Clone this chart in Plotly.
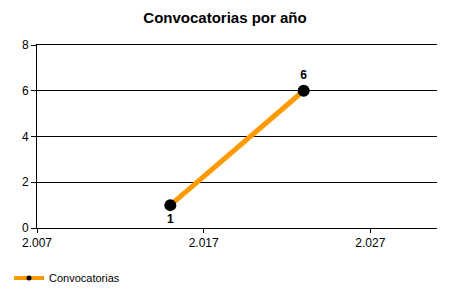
import plotly.graph_objects as go

years = [2015, 2023]
counts = [1, 6]
label_pos = ["bottom center", "top center"]
series_name = "Convocatorias"
title = "Convocatorias por año"

fig = go.Figure()
fig.add_trace(go.Scatter(
    x=years, y=counts, mode="lines+markers+text", name=series_name,
    text=[str(v) for v in counts], textposition=label_pos,
    textfont=dict(family="Liberation Sans, Arial", size=12, color="black", weight="bold"),
    line=dict(color="#FF9900", width=5),
    marker=dict(color="black", size=12),
    cliponaxis=False, showlegend=False,
))
# legend entry with small marker
fig.add_trace(go.Scatter(
    x=[None], y=[None], mode="lines+markers", name=series_name,
    line=dict(color="#FF9900", width=4),
    marker=dict(color="black", size=5),
    showlegend=True,
))
fig.update_layout(
    width=450, height=300,
    margin=dict(l=37, r=13, t=45, b=72, autoexpand=False),
    paper_bgcolor="white", plot_bgcolor="white",
    separators=",.",
    font=dict(family="Liberation Sans, Arial", size=12, color="black"),
    title=dict(text="<b>" + title + "</b>", x=0.5, xanchor="center", y=0.94, yanchor="middle",
               font=dict(size=15, color="black")),
    showlegend=True,
    legend=dict(orientation="h", xref="container", yref="container", x=0.02, y=0.073,
                xanchor="left", yanchor="middle",
                font=dict(size=11), itemwidth=30),
    xaxis=dict(range=[2007, 2031], tick0=2007, dtick=10, tickformat=",d",
               showgrid=False, zeroline=False, showline=True, linecolor="black", linewidth=1,
               mirror=True,
               ticks="outside", ticklen=4, tickcolor="black"),
    yaxis=dict(range=[0, 8], dtick=2, showgrid=True, gridcolor="black", gridwidth=1,
               zeroline=False, showline=True, linecolor="black", linewidth=1,
               ticks="outside", ticklen=5, tickcolor="black"),
)
fig.write_html("out.html")
